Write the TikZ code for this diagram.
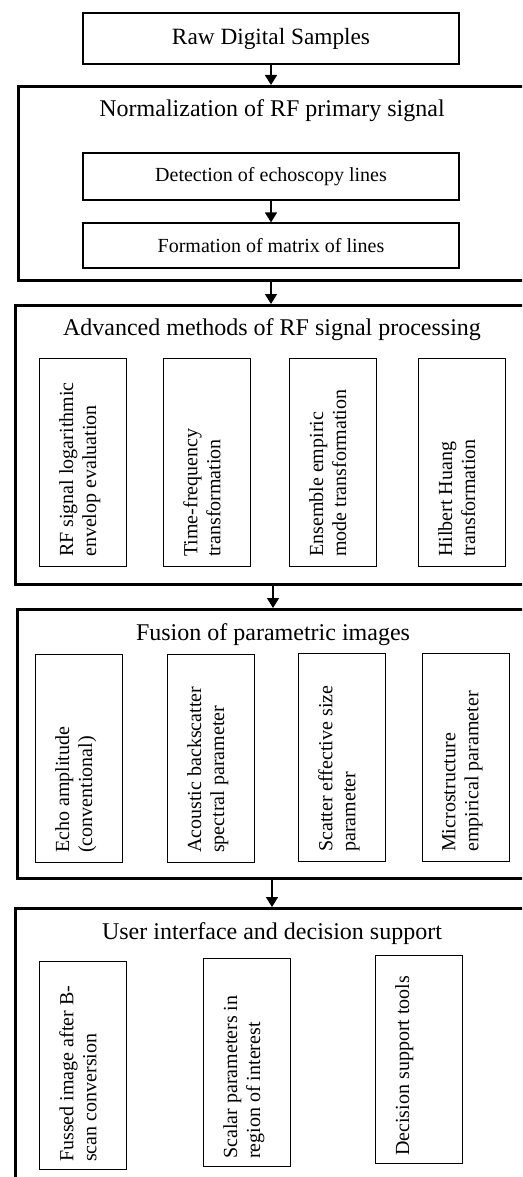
\documentclass[tikz,border=0pt]{standalone}
\usepackage{fontspec}
\setmainfont{Liberation Serif}
\usetikzlibrary{calc}
\usetikzlibrary{arrows.meta}
\newcommand{\colw}{87pt}
\newcommand{\colh}{208pt}
\tikzset{stagebox/.style={draw, line width=3pt, inner sep=0pt, anchor=north west}}
\tikzset{hbox/.style={draw, line width=1.2pt, minimum width=376pt, minimum height=47pt, inner sep=0pt, font=\fontsize{20}{23}\selectfont}}
\tikzset{vbox/.style={draw, line width=1.2pt, minimum width=\colw, minimum height=\colh, inner sep=0pt, anchor=south west}}
\tikzset{vtext/.style={rotate=90, anchor=north west, inner sep=0pt, align=left, font=\fontsize{20}{23}\selectfont}}
\tikzset{stagetitle/.style={anchor=base, inner sep=0pt, font=\fontsize{24}{28}\selectfont}}
\tikzset{flow/.style={line width=1.5pt, -{Triangle[width=12pt,length=10pt]}}}

\begin{document}
\begin{tikzpicture}[x=1pt,y=1pt]
\useasboundingbox (0,0) rectangle (522,-1177);
\clip (0,0) rectangle (522,-1177);

\node[hbox, minimum height=51pt, font=\fontsize{23.3}{27}\selectfont] (raw) at (271,-38.5) {Raw Digital Samples};

% normalization
\node[stagebox, minimum width=520pt, minimum height=194pt] (norm) at (17,-85) {};
\node[stagetitle] (normt) at (272,-117) {Normalization of RF primary signal};
\node[hbox] (det) at (271,-176.5) {Detection of echoscopy lines};
\node[hbox, minimum height=45pt] (form) at (271,-245.5) {Formation of matrix of lines};

% advanced methods
\node[stagebox, minimum width=520pt, minimum height=279pt] (adv) at (14,-304) {};
\node[stagetitle] (advt) at (272,-335) {Advanced methods of RF signal processing};
\node[vbox] (adv1) at (39,-567) {};
\node[vtext] (adv1t) at ($(adv1.south west)+(20,10)$) {RF signal logarithmic\\envelop evaluation};
\node[vbox] (adv2) at (163,-567) {};
\node[vtext] (adv2t) at ($(adv2.south west)+(20,10)$) {Time-frequency\\transformation};
\node[vbox] (adv3) at (289,-567) {};
\node[vtext] (adv3t) at ($(adv3.south west)+(20,10)$) {Ensemble empiric\\mode transformation};
\node[vbox] (adv4) at (418,-567) {};
\node[vtext] (adv4t) at ($(adv4.south west)+(20,10)$) {Hilbert Huang\\transformation};

% fusion
\node[stagebox, minimum width=520pt, minimum height=269pt] (fus) at (16,-608) {};
\node[stagetitle] (fust) at (273,-640) {Fusion of parametric images};
\node[vbox] (fus1) at (35,-863) {};
\node[vtext] (fus1t) at ($(fus1.south west)+(20,10)$) {Echo amplitude\\(conventional)};
\node[vbox] (fus2) at (167,-863) {};
\node[vtext] (fus2t) at ($(fus2.south west)+(20,10)$) {Acoustic backscatter\\spectral parameter};
\node[vbox] (fus3) at (298,-862) {};
\node[vtext] (fus3t) at ($(fus3.south west)+(20,10)$) {Scatter effective size\\parameter};
\node[vbox] (fus4) at (422,-862) {};
\node[vtext] (fus4t) at ($(fus4.south west)+(20,10)$) {Microstructure\\empirical parameter};

% user interface
\node[stagebox, minimum width=520pt, minimum height=300pt] (ui) at (14,-907) {};
\node[stagetitle] (uit) at (272,-939) {User interface and decision support};
\node[vbox] (ui1) at (39,-1170) {};
\node[vtext] (ui1t) at ($(ui1.south west)+(20,8)$) {Fussed image after B-\\scan conversion};
\node[vbox] (ui2) at (203,-1167) {};
\node[vtext] (ui2t) at ($(ui2.south west)+(20,8)$) {Scalar parameters in\\region of interest};
\node[vbox] (ui3) at (375,-1164) {};
\node[vtext] (ui3t) at ($(ui3.south west)+(20,8)$) {Decision support tools};

\draw[flow] (raw.south) -- (raw.south |- norm.north);
\draw[flow] (det.south) -- (form.north);
\draw[flow] (form.south |- norm.south) -- (form.south |- adv.north);
\draw[flow] ($(form.south |- adv.south)+(2,0)$) -- ($(form.south |- fus.north)+(2,0)$);
\draw[flow] ($(form.south |- fus.south)+(1,0)$) -- ($(form.south |- ui.north)+(1,0)$);

\end{tikzpicture}
\end{document}
